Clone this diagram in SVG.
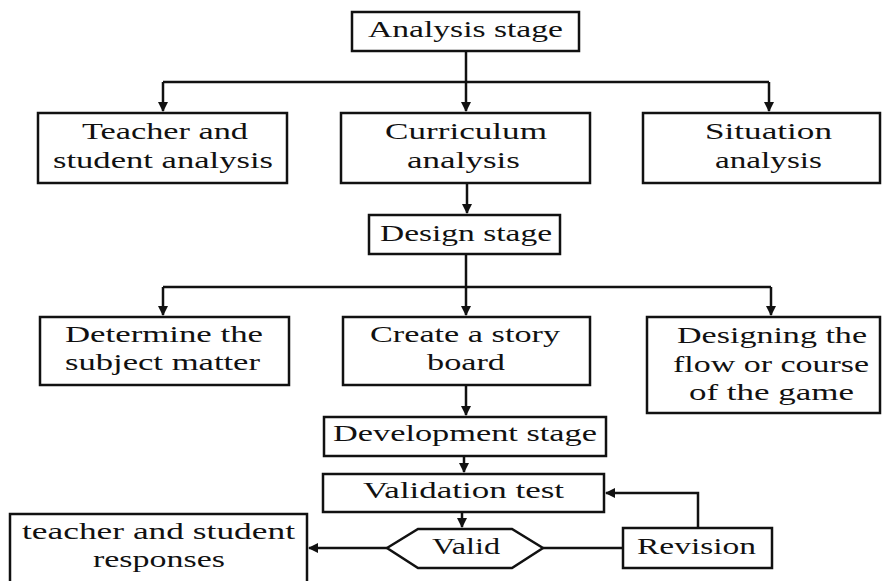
<svg xmlns="http://www.w3.org/2000/svg" width="883" height="581" viewBox="0 0 883 581">
<style>
.box{fill:#fff;stroke:#111;stroke-width:2.5}
.t{font-family:"Liberation Serif","Times New Roman",serif;font-size:23px;fill:#111}
.c{fill:none;stroke:#111;stroke-width:2.5}
</style>
<defs>
<marker id="ah" viewBox="0 0 10 10" refX="9" refY="5" markerWidth="4" markerHeight="4" orient="auto" markerUnits="strokeWidth">
<path d="M0,0 L10,5 L0,10 z" fill="#111"/>
</marker>
</defs>
<rect width="883" height="581" fill="#fff"/>
<g id="connectors">
<path class="c" d="M466,51 V111" marker-end="url(#ah)"/>
<path class="c" d="M163,82 H769"/>
<path class="c" d="M163,82 V111" marker-end="url(#ah)"/>
<path class="c" d="M769,82 V111" marker-end="url(#ah)"/>
<path class="c" d="M467,183 V213" marker-end="url(#ah)"/>
<path class="c" d="M466,254 V315" marker-end="url(#ah)"/>
<path class="c" d="M163,287 H771"/>
<path class="c" d="M163,287 V315" marker-end="url(#ah)"/>
<path class="c" d="M771,287 V315" marker-end="url(#ah)"/>
<path class="c" d="M466,385 V415" marker-end="url(#ah)"/>
<path class="c" d="M464,456 V472" marker-end="url(#ah)"/>
<path class="c" d="M462,512 V527" marker-end="url(#ah)"/>
<path class="c" d="M543,548 H623"/>
<path class="c" d="M698,528 V493 H606" marker-end="url(#ah)"/>
<path class="c" d="M387,548 H309" marker-end="url(#ah)"/>
</g>
<g id="analysis">
<rect class="box" x="352" y="12" width="227" height="39"/>
<text class="t" x="368" y="37" textLength="195" lengthAdjust="spacingAndGlyphs">Analysis stage</text>
</g>
<g id="teacher-student-analysis">
<rect class="box" x="38" y="113" width="249" height="70"/>
<text class="t" x="82" y="139" textLength="166" lengthAdjust="spacingAndGlyphs">Teacher and</text>
<text class="t" x="53" y="168" textLength="220" lengthAdjust="spacingAndGlyphs">student analysis</text>
</g>
<g id="curriculum-analysis">
<rect class="box" x="341" y="113" width="249" height="70"/>
<text class="t" x="385" y="139" textLength="162" lengthAdjust="spacingAndGlyphs">Curriculum</text>
<text class="t" x="407" y="168" textLength="113" lengthAdjust="spacingAndGlyphs">analysis</text>
</g>
<g id="situation-analysis">
<rect class="box" x="643" y="113" width="237" height="70"/>
<text class="t" x="705" y="139" textLength="127" lengthAdjust="spacingAndGlyphs">Situation</text>
<text class="t" x="715" y="168" textLength="107" lengthAdjust="spacingAndGlyphs">analysis</text>
</g>
<g id="design">
<rect class="box" x="369" y="215" width="191" height="39"/>
<text class="t" x="380" y="241" textLength="172" lengthAdjust="spacingAndGlyphs">Design stage</text>
</g>
<g id="determine">
<rect class="box" x="40" y="317" width="249" height="68"/>
<text class="t" x="65" y="342" textLength="198" lengthAdjust="spacingAndGlyphs">Determine the</text>
<text class="t" x="65" y="370" textLength="195" lengthAdjust="spacingAndGlyphs">subject matter</text>
</g>
<g id="storyboard">
<rect class="box" x="343" y="317" width="247" height="68"/>
<text class="t" x="370" y="342" textLength="190" lengthAdjust="spacingAndGlyphs">Create a story</text>
<text class="t" x="427" y="370" textLength="78" lengthAdjust="spacingAndGlyphs">board</text>
</g>
<g id="flow">
<rect class="box" x="647" y="317" width="233" height="96"/>
<text class="t" x="677" y="343" textLength="190" lengthAdjust="spacingAndGlyphs">Designing the</text>
<text class="t" x="673" y="372" textLength="196" lengthAdjust="spacingAndGlyphs">flow or course</text>
<text class="t" x="689" y="400" textLength="165" lengthAdjust="spacingAndGlyphs">of the game</text>
</g>
<g id="development">
<rect class="box" x="324" y="417" width="282" height="39"/>
<text class="t" x="333" y="441" textLength="264" lengthAdjust="spacingAndGlyphs">Development stage</text>
</g>
<g id="validation">
<rect class="box" x="323" y="474" width="281" height="38"/>
<text class="t" x="363" y="498" textLength="201" lengthAdjust="spacingAndGlyphs">Validation test</text>
</g>
<g id="valid">
<polygon class="box" points="387,548 418,529 512,529 543,548 512,568 418,568"/>
<text class="t" x="432" y="554" textLength="68" lengthAdjust="spacingAndGlyphs">Valid</text>
</g>
<g id="revision">
<rect class="box" x="623" y="528" width="149" height="40"/>
<text class="t" x="637" y="554" textLength="119" lengthAdjust="spacingAndGlyphs">Revision</text>
</g>
<g id="responses">
<rect class="box" x="10" y="514" width="297" height="80"/>
<text class="t" x="22" y="539" textLength="273" lengthAdjust="spacingAndGlyphs">teacher and student</text>
<text class="t" x="93" y="567" textLength="132" lengthAdjust="spacingAndGlyphs">responses</text>
</g>
</svg>
